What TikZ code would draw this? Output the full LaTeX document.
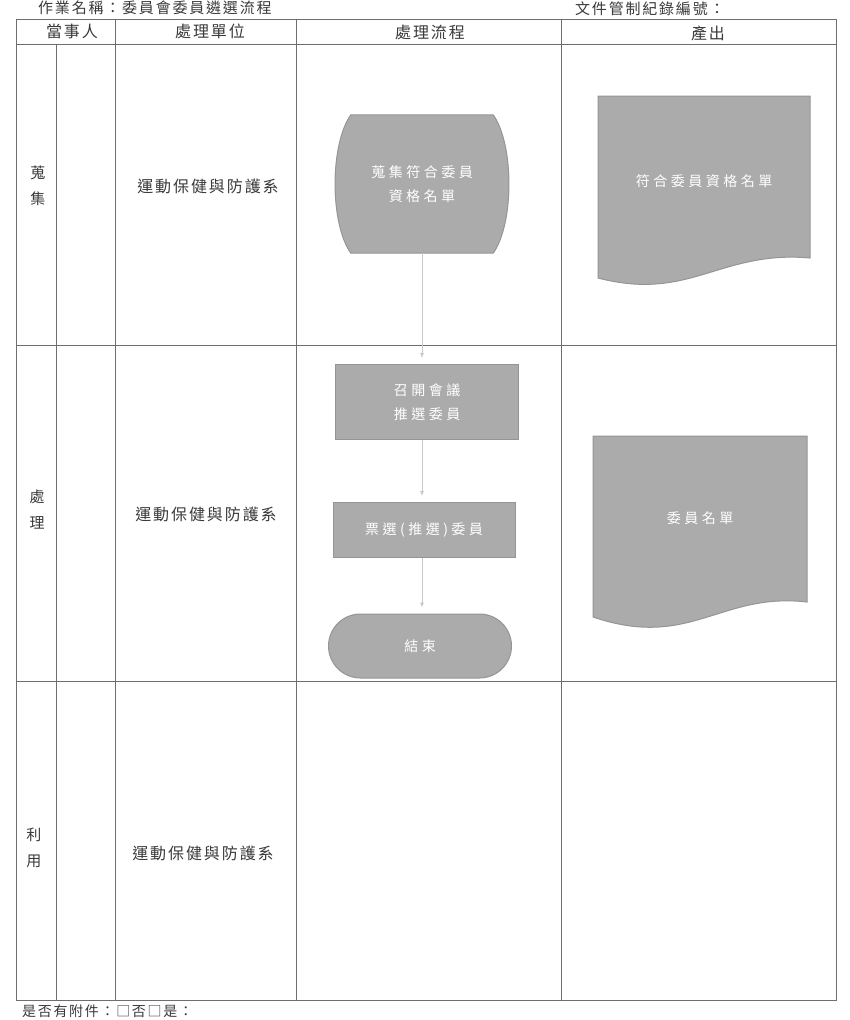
\documentclass[tikz,border=0pt]{standalone}
\usepackage{fontspec}
\setmainfont{Noto Sans CJK TC}
\newfontfamily\spacedA[LetterSpace=12]{Noto Sans CJK TC}
\newfontfamily\spacedB[LetterSpace=25]{Noto Sans CJK TC}
\usetikzlibrary{shapes.misc,arrows.meta}
\definecolor{gridc}{HTML}{6E6E6E}
\definecolor{shapefill}{HTML}{ABABAB}
\definecolor{shapeline}{HTML}{959595}
\definecolor{flowc}{HTML}{C8C8C8}
\definecolor{textc}{HTML}{3A3A3A}
\tikzset{
  grid/.style={draw=gridc, line width=0.9pt},
  lbl/.style={text=textc, font=\spacedA\fontsize{16}{18}\selectfont, inner sep=0pt},
  vlbl/.style={text=textc, font=\fontsize{15}{26}\selectfont, align=center, inner sep=0pt},
  procbox/.style={draw=shapeline, fill=shapefill, line width=1pt, text=white,
    font=\spacedB\fontsize{14}{24}\selectfont, align=center, inner sep=0pt},
  plainbox/.style={text=white, font=\spacedB\fontsize{14}{24}\selectfont, align=center, inner sep=0pt},
  endbox/.style={procbox, rounded rectangle},
  docshape/.style={draw=shapeline, fill=shapefill, line width=1pt},
  doctext/.style={text=white, font=\spacedB\fontsize{14}{16}\selectfont, inner sep=0pt},
  flow/.style={draw=flowc, line width=0.8pt, -{Latex[length=5pt,width=4pt]}, shorten >=6pt}
}
\begin{document}
\begin{tikzpicture}[x=1pt,y=-1pt]
\useasboundingbox[fill=white] (0,0) rectangle (849,1020);
% page texts
\node[lbl, anchor=west, font=\spacedA\fontsize{15}{17}\selectfont] (title) at (38,8) {作業名稱：委員會委員遴選流程};
\node[lbl, anchor=west, font=\spacedA\fontsize{15}{17}\selectfont] (docno) at (575,9) {文件管制紀錄編號：};
\node[lbl, anchor=west, font=\spacedA\fontsize{14}{16}\selectfont] (attach) at (22,1011) {是否有附件：□否□是：};
% table grid
\draw[grid] (16,19) rectangle (836,1000);
\draw[grid] (16,44) -- (836,44);
\draw[grid] (16,345) -- (836,345);
\draw[grid] (16,681) -- (836,681);
\draw[grid] (56,44) -- (56,1000);
\draw[grid] (115,19) -- (115,1000);
\draw[grid] (296,19) -- (296,1000);
\draw[grid] (561,19) -- (561,1000);
% header
\node[lbl] (h1) at (72,31) {當事人};
\node[lbl] (h2) at (210,31) {處理單位};
\node[lbl] (h3) at (430,32) {處理流程};
\node[lbl] (h4) at (708,33) {產出};
% row labels
\node[vlbl] (r1) at (38,186) {蒐\\集};
\node[vlbl] (r2) at (37,510) {處\\理};
\node[vlbl] (r3) at (34,848) {利\\用};
\node[lbl] (u1) at (208,186) {運動保健與防護系};
\node[lbl] (u2) at (206,514) {運動保健與防護系};
\node[lbl] (u3) at (203,853) {運動保健與防護系};
% flow
\node[plainbox, minimum width=142pt, minimum height=138pt] (n1) at (422,184) {};
\path[draw=shapeline, fill=shapefill, line width=1pt]
  (n1.north west) -- (n1.north east)
  .. controls +(21,30) and +(21,-30) .. (n1.south east)
  -- (n1.south west)
  .. controls +(-21,-30) and +(-21,30) .. (n1.north west) -- cycle;
\node[plainbox] (n1t) at (n1.center) {蒐集符合委員\\資格名單};
\node[procbox, minimum width=183pt, minimum height=75pt] (n2) at (427,402) {召開會議\\推選委員};
\node[procbox, minimum width=182pt, minimum height=55pt] (n3) at (424,530) {票選(推選)委員};
\node[endbox, minimum width=183pt, minimum height=64pt] (n4) at (420,646) {結束};
\draw[flow] (n1.south) -- (n1.south |- n2.north);
\draw[flow] (n2.south -| n1.south) -- (n1.south |- n3.north);
\draw[flow] (n3.south -| n1.south) -- (n1.south |- n4.north);
% documents
\path[docshape] (598,96) -- (810,96) -- (810,258) .. controls (720,250) and (690,302) .. (598,278) -- cycle;
\node[doctext] (d1) at (704,181) {符合委員資格名單};
\path[docshape] (593,436) -- (807,436) -- (807,602) .. controls (720,592) and (690,650) .. (593,617) -- cycle;
\node[doctext] (d2) at (700,518) {委員名單};
\end{tikzpicture}
\end{document}
